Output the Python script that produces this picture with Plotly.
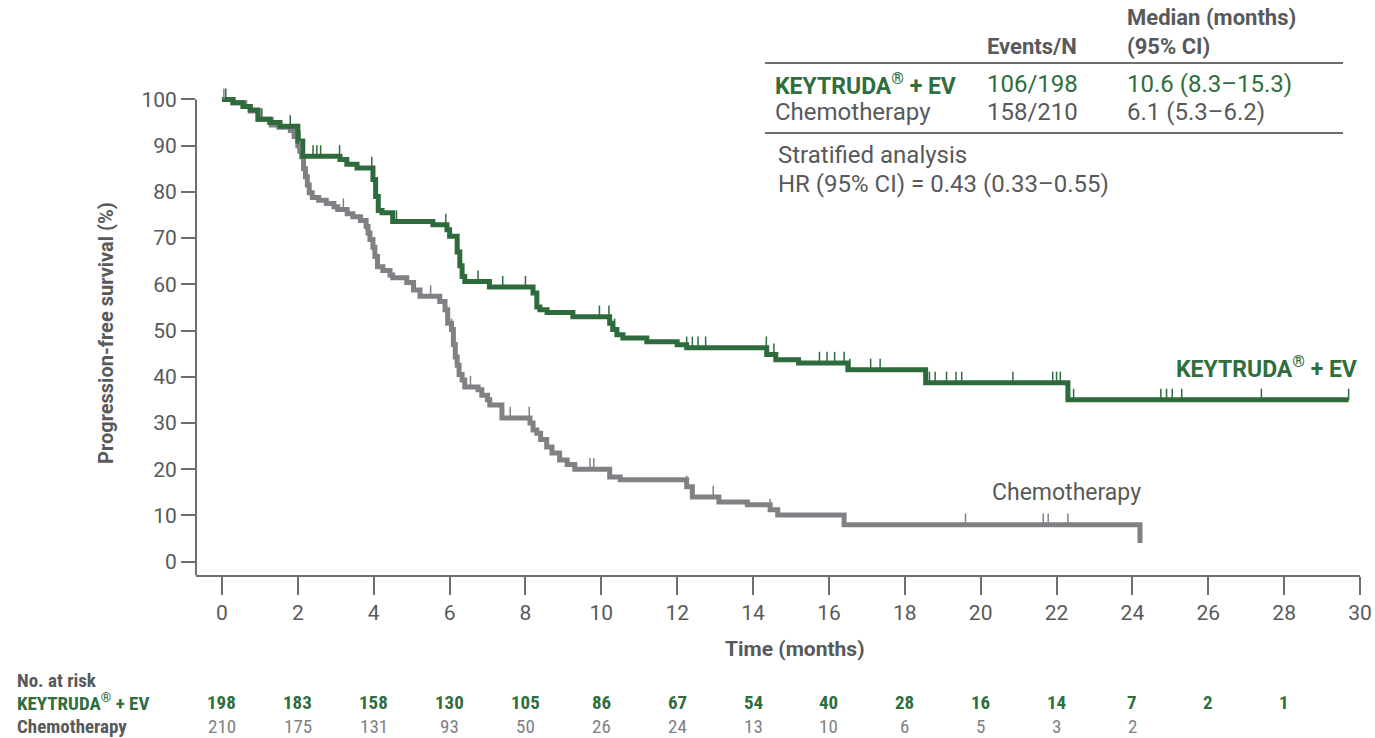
import bisect
import plotly.graph_objects as go

# ---------------- data ----------------
x_ticks = list(range(0, 31, 2))
y_ticks = list(range(0, 101, 10))

risk_months = list(range(0, 29, 2))
risk_keytruda = [198, 183, 158, 130, 105, 86, 67, 54, 40, 28, 16, 14, 7, 2, 1]
risk_chemo = [210, 175, 131, 93, 50, 26, 24, 13, 10, 6, 5, 3, 2]

ev_t = [0, 0.29, 0.55, 0.74, 0.95, 1.26, 1.53, 2.0, 2.13, 3.11, 3.29, 3.56, 3.98, 4.05, 4.12,
        4.22, 4.5, 5.56, 5.93, 6.0, 6.2, 6.27, 6.33, 6.4, 7.05, 8.2, 8.3, 8.38, 8.57, 9.25,
        10.22, 10.3, 10.41, 10.57, 11.2, 12.0, 12.25, 14.36, 14.6, 15.2, 16.5, 18.55, 22.3, 29.7]
ev_s = [100, 99.3, 98.5, 97.7, 95.7, 95.0, 94.2, 91.0, 87.7, 87.0, 86.0, 85.2, 82.7, 79.0, 76.0,
        75.5, 73.6, 72.9, 71.8, 70.4, 67.0, 64.0, 61.7, 60.6, 59.4, 58.1, 55.1, 54.5, 53.9, 53.0,
        51.6, 50.2, 49.1, 48.4, 47.6, 46.9, 46.3, 44.8, 43.7, 43.0, 41.5, 38.7, 35.0, 35.0]

chemo_t = [0, 0.29, 0.6, 0.75, 0.95, 1.3, 1.5, 1.8, 1.9, 2.0, 2.05, 2.1, 2.15, 2.2, 2.25, 2.3,
           2.38, 2.55, 2.75, 2.95, 3.05, 3.3, 3.45, 3.65, 3.8, 3.85, 3.9, 3.98, 4.03, 4.1, 4.24,
           4.43, 4.5, 4.87, 5.05, 5.22, 5.74, 5.88, 5.95, 6.05, 6.1, 6.15, 6.2, 6.25, 6.33, 6.4,
           6.75, 6.85, 7.0, 7.06, 7.38, 8.12, 8.2, 8.3, 8.4, 8.56, 8.7, 8.9, 9.1, 9.3, 10.22,
           10.5, 12.25, 12.4, 13.1, 13.85, 14.45, 14.65, 16.4, 24.2]
chemo_s = [100, 99.3, 98.5, 97.5, 95.7, 94.5, 94.0, 93.3, 92.0, 90.0, 88.8, 87.6, 85.0, 83.3,
           81.5, 79.8, 78.8, 78.2, 77.5, 76.8, 76.2, 75.3, 74.6, 73.8, 72.5, 71.1, 69.7, 68.0,
           66.0, 63.8, 63.0, 62.0, 61.4, 60.4, 58.8, 57.4, 56.3, 54.5, 51.6, 50.2, 47.0, 44.3,
           42.5, 40.5, 39.3, 37.8, 37.2, 36.0, 35.0, 33.9, 31.1, 30.0, 28.5, 27.8, 26.4, 24.8,
           23.5, 22.0, 21.0, 20.0, 18.3, 17.7, 16.2, 14.0, 12.9, 12.3, 11.2, 10.1, 8.0, 4.0]

ev_censor = [0.1, 1.05, 1.8, 2.05, 2.4, 2.5, 2.6, 3.1, 3.95, 4.6, 5.9, 6.75, 7.4, 8.0, 9.95,
             10.2, 10.35, 12.25, 12.4, 12.55, 12.75, 14.35, 14.55, 15.75, 15.95, 16.15, 16.4,
             16.55, 17.1, 17.35, 18.65, 18.8, 19.1, 19.35, 19.5, 20.85, 21.9, 22.0, 22.1, 22.45,
             24.75, 24.9, 25.05, 25.3, 27.4, 29.7]
chemo_censor = [0.05, 2.05, 3.2, 5.5, 6.05, 6.55, 7.6, 8.1, 9.7, 9.8, 12.25, 12.4, 12.95,
                14.45, 19.6, 21.65, 21.78, 22.3]

# ---------------- styles ----------------
GREEN = "#2e6b3c"
GREEN_TXT = "#2f6e3d"
GRAY = "#808184"
AXIS = "#6d6e71"
TXT = "#58595b"
FONT = "Roboto, Arial, sans-serif"
COND = "Roboto Condensed, Liberation Sans Narrow, Roboto, sans-serif"

W, H = 1375, 738
L, R, T, B = 196, 15, 81, 163
PW, PH = W - L - R, H - T - B


def px(xp):
    return (xp - L) / PW


def py(yp):
    return (H - B - yp) / PH


def surv_at(ts, ss, t):
    i = bisect.bisect_right(ts, t) - 1
    return ss[max(i, 0)]


fig = go.Figure()

fig.add_trace(go.Scatter(x=chemo_t, y=chemo_s, mode="lines", line=dict(color=GRAY, width=5, shape="hv"),
                         hoverinfo="skip", showlegend=False))
fig.add_trace(go.Scatter(x=ev_t, y=ev_s, mode="lines", line=dict(color=GREEN, width=5, shape="hv"),
                         hoverinfo="skip", showlegend=False))

for cens, ts, ss, col in [(chemo_censor, chemo_t, chemo_s, GRAY), (ev_censor, ev_t, ev_s, GREEN)]:
    ys = [surv_at(ts, ss, c) for c in cens]
    fig.add_trace(go.Scatter(
        x=cens, y=ys, mode="markers", marker=dict(size=1, color=col, opacity=0),
        error_y=dict(type="data", symmetric=False, array=[2.4] * len(cens), arrayminus=[0] * len(cens),
                     width=0, thickness=1.5, color=col),
        hoverinfo="skip", showlegend=False))

annotations = []


def ann(text, xp, yp, size=24, color=TXT, bold=False, xanchor="left", family=FONT, xref="paper", xval=None):
    t = f"<b>{text}</b>" if bold else text
    if xval is None:
        shift = {"left": -2, "right": 2}.get(xanchor, 0)
        xv = px(xp + shift)
    else:
        xv = xval
    annotations.append(dict(
        text=t, x=xv, y=py(yp), xref=xref, yref="paper",
        xanchor=xanchor, yanchor="middle", showarrow=False,
        font=dict(size=size, color=color, family=family)))


# top-right table
ann("Median (months)", 1127, 18, bold=True, size=22)
ann("Events/N", 987, 47, bold=True, size=22)
ann("(95% CI)", 1127, 47, bold=True, size=22)
ann("KEYTRUDA<sup>®</sup> + EV", 775, 84, bold=True, color=GREEN_TXT, size=23)
ann("106/198", 987, 84, color=GREEN_TXT)
ann("10.6 (8.3–15.3)", 1127, 84, color=GREEN_TXT)
ann("Chemotherapy", 775, 112)
ann("158/210", 987, 112)
ann("6.1 (5.3–6.2)", 1127, 112)
ann("Stratified analysis", 778, 155)
ann("HR (95% CI) = 0.43 (0.33–0.55)", 778, 184)

# curve labels
ann("KEYTRUDA<sup>®</sup> + EV", 1357, 367, bold=True, color=GREEN_TXT, xanchor="right", size=23)
ann("Chemotherapy", 992, 492, color=TXT, size=23)

# axis titles
ann("Time (months)", 795, 649, bold=True, xanchor="center", size=21)
annotations.append(dict(text="<b>Progression-free survival (%)</b>", x=px(106), y=py(333), xref="paper",
                        yref="paper", xanchor="center", yanchor="middle", textangle=-90, showarrow=False,
                        font=dict(size=20, color=TXT, family=FONT)))

# risk table
ann("No. at risk", 17, 680, bold=True, size=19, family=COND)
ann("KEYTRUDA<sup>®</sup> + EV", 17, 702, bold=True, size=19, family=COND, color=GREEN_TXT)
ann("Chemotherapy", 17, 726, bold=True, size=19, family=COND)
for m, n in zip(risk_months, risk_keytruda):
    ann(str(n), None, 702, bold=True, size=19, family=COND, color=GREEN_TXT, xanchor="center", xref="x", xval=m)
for m, n in zip(risk_months, risk_chemo):
    ann(str(n), None, 726, size=19, family=COND, color=GRAY, xanchor="center", xref="x", xval=m)

shapes = [
    dict(type="line", xref="paper", yref="y", x0=0, x1=0, y0=-2.9, y1=100, line=dict(color=AXIS, width=2)),
    dict(type="line", xref="paper", yref="paper", x0=px(765), x1=px(1343), y0=py(63), y1=py(63),
         line=dict(color=AXIS, width=2)),
    dict(type="line", xref="paper", yref="paper", x0=px(765), x1=px(1343), y0=py(133), y1=py(133),
         line=dict(color=AXIS, width=2)),
]

fig.update_layout(
    width=W, height=H, margin=dict(l=L, r=R, t=T, b=B, pad=0, autoexpand=False),
    paper_bgcolor="white", plot_bgcolor="white",
    annotations=annotations, shapes=shapes,
    xaxis=dict(range=[-0.685, 30], tickvals=x_ticks, ticks="outside", ticklen=18, tickwidth=2,
               tickcolor=AXIS, showline=True, linecolor=AXIS, linewidth=2, showgrid=False, zeroline=False,
               automargin=False, tickfont=dict(size=21, color=TXT, family=FONT), fixedrange=True),
    yaxis=dict(range=[-2.9, 104], tickvals=y_ticks, ticks="outside", ticklen=14, tickwidth=2,
               tickcolor=AXIS, showline=False, showgrid=False, zeroline=False,
               automargin=False, tickfont=dict(size=21, color=TXT, family=FONT), fixedrange=True),
)

fig.write_html("out.html")
